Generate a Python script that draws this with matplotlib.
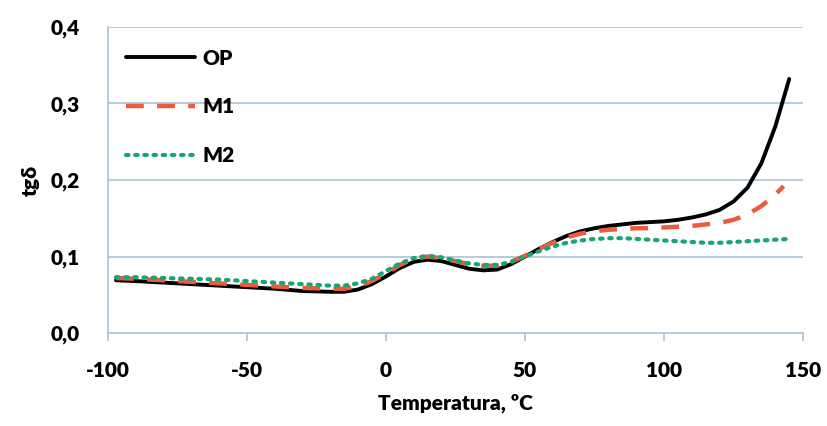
import matplotlib
matplotlib.use("Agg")
import matplotlib.pyplot as plt

temp_op = [-97, -90, -80, -70, -60, -50, -40, -30, -20, -15, -10, -5, 0, 5, 10, 15, 20, 25, 30, 35, 40,
           45, 50, 55, 60, 65, 70, 75, 80, 85, 90, 95, 100, 105, 110, 115, 120, 125, 130, 135, 140, 145]
op = [0.069, 0.068, 0.066, 0.064, 0.062, 0.060, 0.058, 0.055, 0.054, 0.054, 0.057, 0.064, 0.074, 0.085,
      0.093, 0.096, 0.094, 0.089, 0.084, 0.082, 0.083, 0.090, 0.100, 0.110, 0.119, 0.127, 0.133, 0.137,
      0.140, 0.142, 0.144, 0.145, 0.146, 0.148, 0.151, 0.155, 0.161, 0.172, 0.190, 0.222, 0.270, 0.332]

temp_m1 = [-97, -90, -80, -70, -60, -50, -40, -30, -20, -15, -10, -5, 0, 5, 10, 15, 20, 25, 30, 35, 40,
           45, 50, 55, 60, 65, 70, 75, 80, 85, 90, 95, 100, 105, 110, 115, 120, 125, 130, 135, 140, 143]
m1 = [0.072, 0.071, 0.069, 0.067, 0.065, 0.063, 0.061, 0.059, 0.058, 0.058, 0.061, 0.068, 0.078, 0.089,
      0.097, 0.100, 0.098, 0.094, 0.090, 0.088, 0.088, 0.093, 0.101, 0.110, 0.118, 0.125, 0.130, 0.133,
      0.135, 0.136, 0.137, 0.137, 0.138, 0.139, 0.140, 0.142, 0.144, 0.148, 0.155, 0.166, 0.181, 0.192]

temp_m2 = [-97, -90, -80, -70, -60, -50, -40, -30, -20, -15, -10, -5, 0, 5, 10, 15, 20, 25, 30, 35, 40,
           45, 50, 55, 60, 65, 70, 75, 80, 85, 90, 95, 100, 105, 110, 115, 120, 125, 130, 135, 140, 145]
m2 = [0.073, 0.073, 0.072, 0.071, 0.070, 0.068, 0.066, 0.064, 0.062, 0.062, 0.065, 0.071, 0.081, 0.091,
      0.098, 0.101, 0.099, 0.095, 0.091, 0.089, 0.089, 0.093, 0.100, 0.107, 0.113, 0.118, 0.121, 0.123,
      0.124, 0.124, 0.123, 0.122, 0.121, 0.120, 0.119, 0.118, 0.118, 0.119, 0.120, 0.121, 0.122, 0.123]

x_ticks = [-100, -50, 0, 50, 100, 150]
x_labels = ["-100", "-50", "0", "50", "100", "150"]
y_ticks = [0.0, 0.1, 0.2, 0.3, 0.4]
y_labels = ["0,0", "0,1", "0,2", "0,3", "0,4"]

plt.rcParams['font.family'] = ['Lato', 'DejaVu Sans']
fig = plt.figure(figsize=(8.28, 4.26), dpi=100)
ax = fig.add_axes([0.130, 0.218, 0.840, 0.719])

grid_c = '#a9c3d6'
for yv in y_ticks[1:]:
    ax.axhline(yv, color=grid_c, lw=1.2, zorder=0)

ax.plot(temp_op, op, color='black', lw=2.8, label='OP', solid_capstyle='round', solid_joinstyle='round')
ax.plot(temp_m1, m1, color='#ee5a3c', lw=3.2, dashes=(4, 3), label='M1')
ax.plot(temp_m2, m2, color='#17a673', lw=3.0, linestyle=(0, (0.6, 1.6)), dash_capstyle='round', label='M2')

ax.set_xlim(-100, 150)
ax.set_ylim(0, 0.4)
ax.set_xticks(x_ticks)
ax.set_xticklabels(x_labels)
ax.set_yticks(y_ticks)
ax.set_yticklabels(y_labels)

for s in ['top', 'right']:
    ax.spines[s].set_visible(False)
for s in ['left', 'bottom']:
    ax.spines[s].set_color(grid_c)
    ax.spines[s].set_linewidth(1.2)

fs = 15
ax.tick_params(axis='x', direction='out', length=6, color=grid_c, width=1.2, labelsize=fs, pad=14)
ax.tick_params(axis='y', length=0, labelsize=fs, pad=20)
for lab in ax.get_xticklabels() + ax.get_yticklabels():
    lab.set_fontweight('heavy')

ax.set_xlabel('Temperatura, ºC', fontsize=fs, fontweight='heavy', labelpad=10)
ax.set_ylabel('tgδ', fontsize=fs, fontweight='heavy', labelpad=8)

leg = ax.legend(loc='upper left', frameon=False, handlelength=3.3, handletextpad=0.35,
                labelspacing=1.42, prop={'weight': 'heavy', 'size': fs},
                bbox_to_anchor=(0.0, 0.99))

fig.savefig('out.png', dpi=100)
